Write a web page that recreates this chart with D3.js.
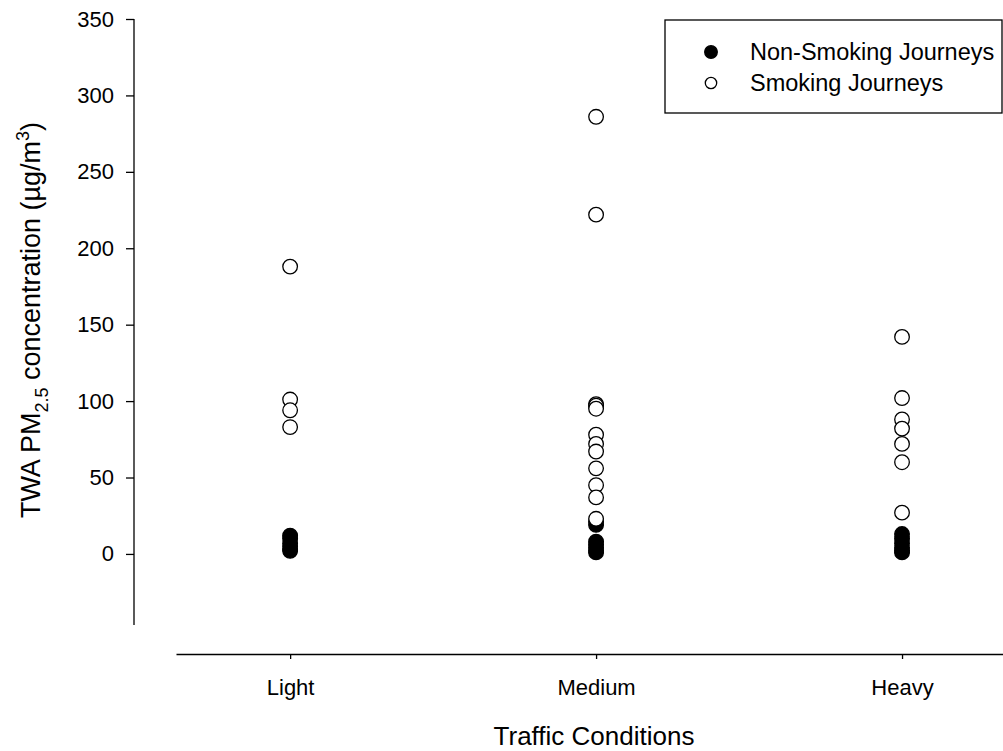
<!DOCTYPE html>
<html lang="en">
<head>
  <meta charset="UTF-8">
  <title>TWA PM2.5 by Traffic Conditions</title>
  <script src="https://d3js.org/d3.v7.min.js"></script>
  <style>
    body { margin: 0; padding: 0; background: #fff; }
    svg { display: block; font-family: 'Liberation Sans', Arial, sans-serif; }
    .axis path, .axis line { stroke: #000; stroke-width: 1.3; }
    .axis text { font-size: 22px; fill: #000; }
  </style>
</head>
<body>
  <div id="chart"></div>
  <script>
    // categories on the x axis
    const categories = ["Light", "Medium", "Heavy"];
    const yTicks = [0, 50, 100, 150, 200, 250, 300, 350];

    // TWA PM2.5 values (ug/m3)
    const smokingLight = [188, 101, 94, 83];
    const smokingMedium = [286, 222, 98, 97, 95, 78, 72, 67, 56, 45, 37, 23];
    const smokingHeavy = [142, 102, 88, 82, 72, 60, 27];

    const nonSmokingLight = [12, 10, 7, 5, 3, 2];
    const nonSmokingMedium = [21, 19, 8, 6, 4, 2, 1];
    const nonSmokingHeavy = [13, 10, 7, 4, 2, 1];

    const width = 1003, height = 751;
    const svg = d3.select("#chart").append("svg")
      .attr("width", width).attr("height", height);

    const x = d3.scaleLinear().domain([0.627, 3.33]).range([176, 1003]);
    const y = d3.scaleLinear().domain([-46.5, 350]).range([625, 19]);

    // y axis
    const yAxis = svg.append("g").attr("class", "axis")
      .attr("transform", "translate(134,0)")
      .call(d3.axisLeft(y).tickValues(yTicks).tickSize(8).tickPadding(12).tickSizeOuter(0));
    yAxis.select(".domain").attr("d", `M0,${y(-46.5)}V${y(350)}`);

    // x axis
    svg.append("g").attr("class", "axis")
      .attr("transform", "translate(0,654)")
      .call(d3.axisBottom(x).tickValues([1, 2, 3]).tickFormat(d => categories[d - 1])
        .tickSize(5).tickPadding(20).tickSizeOuter(0));

    // axis titles
    const yTitle = svg.append("text")
      .attr("transform", "translate(40,320) rotate(-90)")
      .attr("text-anchor", "middle")
      .style("font-size", "27px");
    yTitle.append("tspan").text("TWA PM");
    yTitle.append("tspan").attr("dy", 8).style("font-size", "18px").text("2.5");
    yTitle.append("tspan").attr("dy", -8).text(" concentration (\u00b5g/m");
    yTitle.append("tspan").attr("dy", -11).style("font-size", "18px").text("3");
    yTitle.append("tspan").attr("dy", 11).text(")");

    svg.append("text")
      .attr("x", 594).attr("y", 745)
      .attr("text-anchor", "middle")
      .style("font-size", "26px")
      .text("Traffic Conditions");

    function flatten(groups) {
      const out = [];
      groups.forEach((vals, i) => vals.forEach(v => out.push({ cat: i + 1, value: v })));
      return out;
    }

    const smoking = flatten([smokingLight, smokingMedium, smokingHeavy]);
    const nonSmoking = flatten([nonSmokingLight, nonSmokingMedium, nonSmokingHeavy]);

    svg.append("g").selectAll("circle")
      .data(nonSmoking).join("circle")
      .attr("cx", d => x(d.cat)).attr("cy", d => y(d.value))
      .attr("r", 7.3).attr("fill", "#000").attr("stroke", "#000").attr("stroke-width", 1.3);

    svg.append("g").selectAll("circle")
      .data(smoking).join("circle")
      .attr("cx", d => x(d.cat)).attr("cy", d => y(d.value))
      .attr("r", 7.3).attr("fill", "#fff").attr("stroke", "#000").attr("stroke-width", 1.3);

    // legend
    const legend = svg.append("g");
    legend.append("rect")
      .attr("x", 665).attr("y", 20).attr("width", 337).attr("height", 93)
      .attr("fill", "#fff").attr("stroke", "#000").attr("stroke-width", 1.3);
    const entries = [
      { label: "Non-Smoking Journeys", fill: "#000", r: 6.3 },
      { label: "Smoking Journeys", fill: "#fff", r: 5.7 }
    ];
    entries.forEach((e, i) => {
      legend.append("circle")
        .attr("cx", 711).attr("cy", 52 + i * 31).attr("r", e.r)
        .attr("fill", e.fill).attr("stroke", "#000").attr("stroke-width", 1.3);
      legend.append("text")
        .attr("x", 750).attr("y", 60 + i * 31)
        .style("font-size", "23.5px")
        .text(e.label);
    });
  </script>
</body>
</html>
